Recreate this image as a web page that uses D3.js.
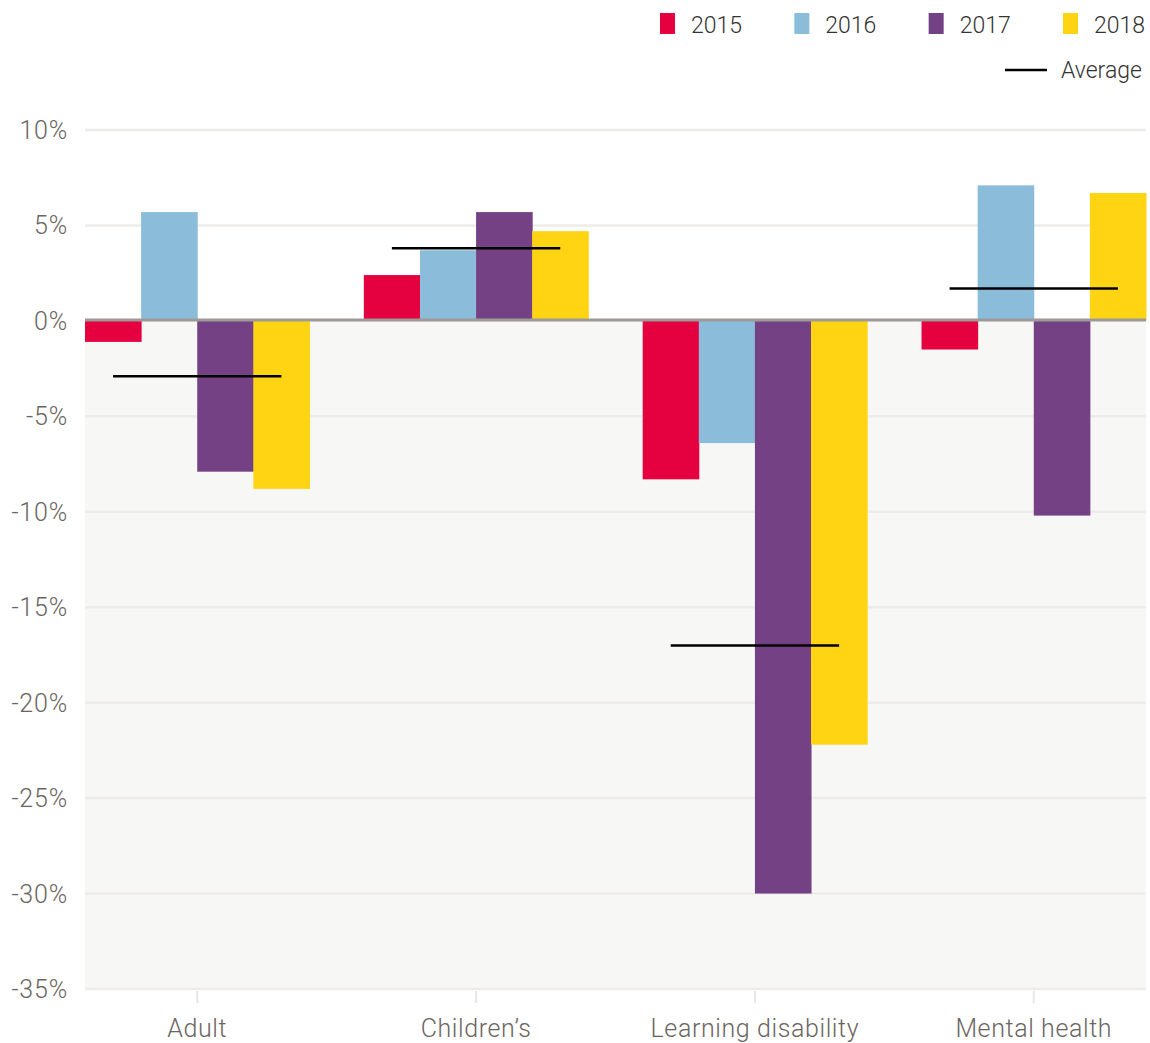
<!DOCTYPE html>
<html>
<head>
<meta charset="utf-8">
<script src="https://cdn.jsdelivr.net/npm/d3@7"></script>
<style>
  body { margin: 0; background: #fff; }
  text { font-family: Roboto, "Liberation Sans", sans-serif; font-weight: 300; }
</style>
</head>
<body>
<script>
// data
var categories = ["Adult", "Children\u2019s", "Learning disability", "Mental health"];
var years = ["2015", "2016", "2017", "2018"];
var values2015 = [-1.1, 2.4, -8.3, -1.5];
var values2016 = [5.7, 3.7, -6.4, 7.1];
var values2017 = [-7.9, 5.7, -30.0, -10.2];
var values2018 = [-8.8, 4.7, -22.2, 6.7];
var averages = [-2.9, 3.8, -17.0, 1.7];
var yTicks = [10, 5, 0, -5, -10, -15, -20, -25, -30, -35];

var series = [values2015, values2016, values2017, values2018];
var colors = d3.scaleOrdinal().domain(years).range(["#e5003f", "#8bbdda", "#744284", "#ffd412"]);

var width = 1150, height = 1043;
var margin = {left: 85, right: 4, top: 130, bottom: 53};

var svg = d3.select("body")
    .append("svg")
    .attr("width", width)
    .attr("height", height);

var x = d3.scaleBand()
    .domain(categories)
    .range([margin.left, width - margin.right])
    .paddingInner(0.195)
    .paddingOuter(0);

var xSub = d3.scaleBand()
    .domain(years)
    .range([0, x.bandwidth()]);

var y = d3.scaleLinear()
    .domain([-35, 10])
    .range([height - margin.bottom - 1, margin.top]);

// shaded area below zero
svg.append("rect")
    .attr("x", margin.left)
    .attr("y", y(0))
    .attr("width", width - margin.right - margin.left)
    .attr("height", y(-35) - y(0))
    .attr("fill", "#f7f7f5");

// grid lines
svg.append("g")
    .selectAll("line")
    .data(yTicks.filter(d => d != 0))
    .enter()
    .append("line")
    .attr("x1", margin.left)
    .attr("x2", width - margin.right)
    .attr("y1", d => y(d))
    .attr("y2", d => y(d))
    .attr("stroke", "#eeece9")
    .attr("stroke-width", 2.5);

// y labels
svg.append("g")
    .selectAll("text")
    .data(yTicks)
    .enter()
    .append("text")
    .attr("x", 68)
    .attr("y", d => y(d) + 9)
    .attr("text-anchor", "end")
    .attr("font-size", 25)
    .attr("letter-spacing", 0.8)
    .attr("fill", "#6b6561")
    .text(d => d + "%");

// bars
var groups = svg.append("g")
    .selectAll("g")
    .data(categories)
    .enter()
    .append("g")
    .attr("transform", d => "translate(" + x(d) + ",0)");

groups.selectAll("rect")
    .data((d, i) => years.map((yr, j) => ({year: yr, value: series[j][i]})))
    .enter()
    .append("rect")
    .attr("x", d => xSub(d.year))
    .attr("width", xSub.bandwidth() + 0.5)
    .attr("y", d => y(Math.max(0, d.value)))
    .attr("height", d => Math.abs(y(d.value) - y(0)))
    .attr("fill", d => colors(d.year));

// zero line
svg.append("line")
    .attr("x1", margin.left)
    .attr("x2", width - margin.right)
    .attr("y1", y(0) - 1)
    .attr("y2", y(0) - 1)
    .attr("stroke", "#9e9a98")
    .attr("stroke-width", 3);

// average lines
svg.append("g")
    .selectAll("line")
    .data(categories)
    .enter()
    .append("line")
    .attr("x1", d => x(d) + x.bandwidth() * 0.125)
    .attr("x2", d => x(d) + x.bandwidth() * 0.875)
    .attr("y1", (d, i) => y(averages[i]))
    .attr("y2", (d, i) => y(averages[i]))
    .attr("stroke", "#000")
    .attr("stroke-width", 2.5);

// x ticks and labels
var xAxis = svg.append("g");
xAxis.selectAll("line")
    .data(categories)
    .enter()
    .append("line")
    .attr("x1", d => x(d) + x.bandwidth() / 2)
    .attr("x2", d => x(d) + x.bandwidth() / 2)
    .attr("y1", y(-35) + 2)
    .attr("y2", y(-35) + 14)
    .attr("stroke", "#e8e6e3")
    .attr("stroke-width", 2);
xAxis.selectAll("text")
    .data(categories)
    .enter()
    .append("text")
    .attr("x", d => x(d) + x.bandwidth() / 2)
    .attr("y", 1037)
    .attr("text-anchor", "middle")
    .attr("font-size", 25)
    .attr("letter-spacing", 0.6)
    .attr("fill", "#6b6561")
    .text(d => d);

// legend
var legend = svg.append("g");
var legendX = d3.scalePoint().domain(years).range([660, 1063]);
legend.selectAll("rect")
    .data(years)
    .enter()
    .append("rect")
    .attr("x", d => legendX(d))
    .attr("y", 13)
    .attr("width", 15)
    .attr("height", 21)
    .attr("fill", d => colors(d));
legend.selectAll("text.yr")
    .data(years)
    .enter()
    .append("text")
    .attr("class", "yr")
    .attr("x", d => legendX(d) + 31)
    .attr("y", 33)
    .attr("font-size", 23)
    .attr("fill", "#333")
    .text(d => d);
legend.append("line")
    .attr("x1", 1005)
    .attr("x2", 1047)
    .attr("y1", 70)
    .attr("y2", 70)
    .attr("stroke", "#000")
    .attr("stroke-width", 2.5);
legend.append("text")
    .attr("x", 1061)
    .attr("y", 78)
    .attr("font-size", 23)
    .attr("fill", "#333")
    .text("Average");
</script>
</body>
</html>
